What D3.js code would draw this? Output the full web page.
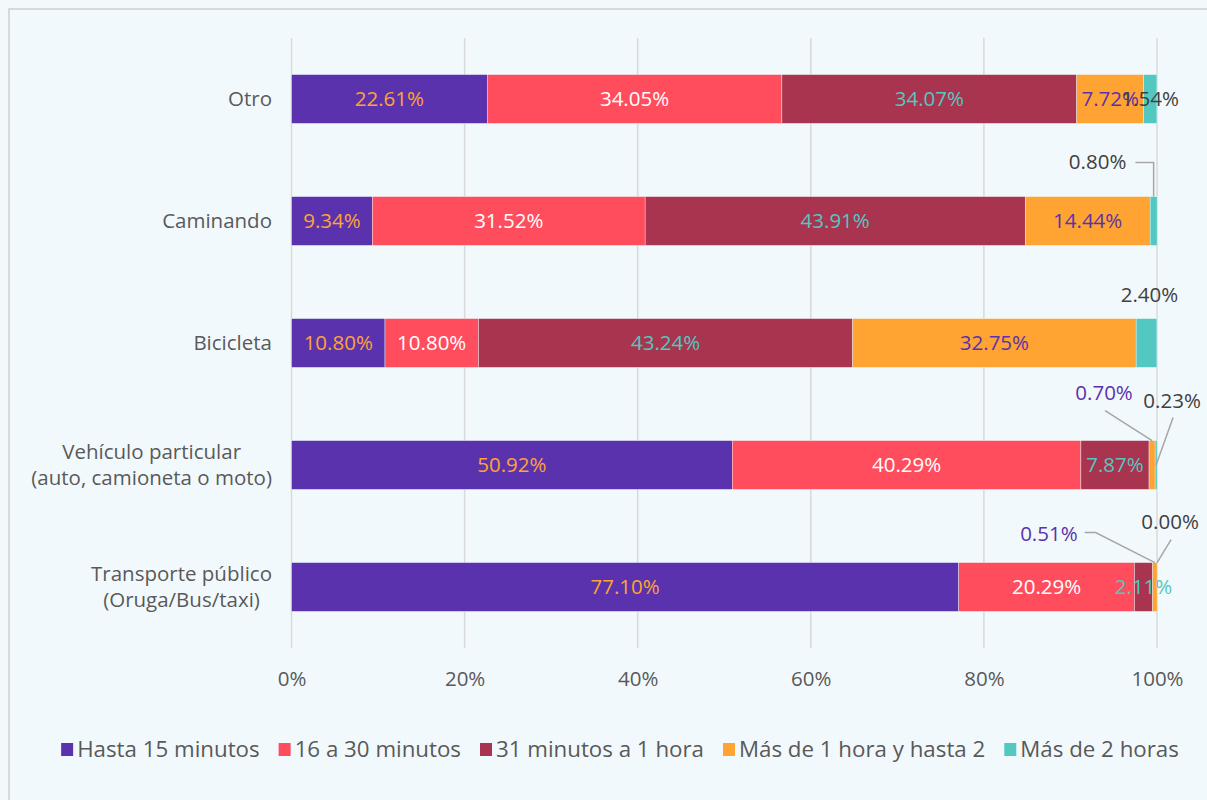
<!DOCTYPE html>
<html>
<head>
<meta charset="utf-8">
<script src="https://cdn.jsdelivr.net/npm/d3@7"></script>
<style>
  html, body { margin: 0; padding: 0; background: #f2f9fd; }
  svg { display: block; font-family: "Open Sans", sans-serif; }
</style>
</head>
<body>
<svg id="chart" width="1207" height="800"></svg>
<script>
// Travel time by mode of transport (share of trips, %)
const categories = [
  "Otro",
  "Caminando",
  "Bicicleta",
  "Vehículo particular\n(auto, camioneta o moto)",
  "Transporte público\n(Oruga/Bus/taxi)"
];
const seriesNames = [
  "Hasta 15 minutos",
  "16 a 30 minutos",
  "31 minutos a 1 hora",
  "Más de 1 hora y hasta 2",
  "Más de 2 horas"
];
const hasta15     = [22.61, 9.34, 10.80, 50.92, 77.10];
const de16a30     = [34.05, 31.52, 10.80, 40.29, 20.29];
const de31a60     = [34.07, 43.91, 43.24, 7.87, 2.11];
const de1a2horas  = [7.72, 14.44, 32.75, 0.70, 0.51];
const mas2horas   = [1.54, 0.80, 2.40, 0.23, 0.00];
const xTicks = [0, 20, 40, 60, 80, 100];

const seriesValues = [hasta15, de16a30, de31a60, de1a2horas, mas2horas];
const fills = ["#5a32ad", "#ff4d5e", "#a8344f", "#ffa333", "#52c8c0"];
const labelColors = ["#ffa333", "#ffffff", "#52c8c0", "#5a32ad", "#404040"];

// Labels for thin segments sit outside the bar, with a leader line.
// key: "category|series" -> label offset from the segment's top-centre, leader style
const callouts = {
  "1|4": { dx: -56, dy: -35, leader: "elbowDown" },
  "2|4": { dx: 3, dy: -24, leader: "none" },
  "3|3": { dx: -48, dy: -48, leader: "straight" },
  "3|4": { dx: 16, dy: -40, leader: "toMiddle" },
  "4|3": { dx: -106, dy: -29, leader: "elbowDiag" },
  "4|4": { dx: 13, dy: -41, leader: "straight" }
};

const svg = d3.select("#chart");
const fontSize = 20.5;
const legendFontSize = 22.3;
const textColor = "#595959";

// frame
svg.append("rect")
  .attr("x", 9).attr("y", 9).attr("width", 1240).attr("height", 820)
  .attr("fill", "#f2f9fd").attr("stroke", "#d9d9d9").attr("stroke-width", 2);

const x = d3.scaleLinear().domain([0, 100]).range([291.5, 1157]);
const y = d3.scaleBand().domain(d3.range(categories.length))
  .range([38, 648]).paddingInner(0.6).paddingOuter(0.3);

// gridlines
svg.append("g").selectAll("line").data(xTicks).join("line")
  .attr("x1", d => x(d)).attr("x2", d => x(d))
  .attr("y1", 38).attr("y2", 648)
  .attr("stroke", "#d9d9d9").attr("stroke-width", 1.5);

// x axis labels
const xAxis = d3.axisBottom(x).tickValues(xTicks).tickFormat(d => d + "%").tickSize(0).tickPadding(0);
const gx = svg.append("g").attr("transform", "translate(0,671)").call(xAxis);
gx.select(".domain").remove();
gx.selectAll("text").attr("font-size", fontSize).attr("fill", textColor)
  .attr("font-family", "Open Sans, sans-serif");

// stacked data
const stacked = categories.map((c, i) => {
  let acc = 0;
  return seriesValues.map((vals, s) => {
    const v = vals[i];
    const seg = { cat: i, series: s, value: v, x0: acc, x1: acc + v };
    acc += v;
    return seg;
  });
});

const segs = stacked.flat();

// bars
svg.append("g").selectAll("rect").data(segs).join("rect")
  .attr("x", d => x(d.x0))
  .attr("y", d => y(d.cat))
  .attr("width", d => Math.max(0, x(d.x1) - x(d.x0)))
  .attr("height", y.bandwidth())
  .attr("fill", d => fills[d.series])
  .attr("stroke", "#f2f9fd").attr("stroke-width", 0.4);

// value labels
const fmt = v => v.toFixed(2) + "%";
const labels = svg.append("g");
const leaders = svg.append("g");
segs.forEach(d => {
  const key = d.cat + "|" + d.series;
  const cx = (x(d.x0) + x(d.x1)) / 2;
  const top = y(d.cat);
  const c = callouts[key];
  if (!c) {
    labels.append("text")
      .attr("x", cx).attr("y", top + y.bandwidth() / 2)
      .attr("dy", "0.35em")
      .attr("text-anchor", "middle")
      .attr("font-size", fontSize)
      .attr("fill", labelColors[d.series])
      .text(fmt(d.value));
    return;
  }
  const lx = cx + c.dx, ly = top + c.dy;
  const t = labels.append("text")
    .attr("x", lx).attr("y", ly).attr("dy", "0.35em")
    .attr("text-anchor", "middle")
    .attr("font-size", fontSize)
    .attr("fill", labelColors[d.series])
    .text(fmt(d.value));
  const w = t.node().getComputedTextLength();
  let pts = null;
  if (c.leader === "elbowDown") {
    pts = [[lx + w / 2 + 9, ly + 1], [cx, ly + 1], [cx, top]];
  } else if (c.leader === "elbowDiag") {
    pts = [[lx + w / 2 + 7, ly - 1], [lx + w / 2 + 18, ly - 1], [cx, top]];
  } else if (c.leader === "straight") {
    pts = [[lx + 1, ly + 18], [cx, top]];
  } else if (c.leader === "toMiddle") {
    pts = [[lx + 1, ly + 17], [cx, top + y.bandwidth() / 2]];
  }
  if (pts) {
    leaders.append("path")
      .attr("d", d3.line()(pts))
      .attr("fill", "none").attr("stroke", "#a6a6a6").attr("stroke-width", 1.5);
  }
});

// category labels: multi-line labels are centred on their widest line, right edge at 272
const catG = svg.append("g");
categories.forEach((c, i) => {
  const lines = c.split("\n");
  const g = catG.append("g");
  const cy = y(i) + y.bandwidth() / 2;
  const lineH = 26;
  const texts = lines.map((ln, k) => g.append("text")
    .attr("y", cy + (k - (lines.length - 1) / 2) * lineH)
    .attr("dy", "0.35em")
    .attr("text-anchor", "middle")
    .attr("font-size", fontSize)
    .attr("fill", textColor)
    .text(ln));
  const maxW = d3.max(texts, t => t.node().getComputedTextLength());
  texts.forEach(t => t.attr("x", 272 - maxW / 2));
});

// legend
const legend = svg.append("g");
const legendGap = 19;
let lxPos = 0;
seriesNames.forEach((n, s) => {
  const g = legend.append("g").attr("transform", `translate(${lxPos},0)`);
  g.append("rect").attr("x", 0).attr("y", -7).attr("width", 12).attr("height", 13).attr("fill", fills[s]);
  const t = g.append("text").attr("x", 16).attr("y", 0).attr("dy", "0.33em")
    .attr("font-size", legendFontSize).attr("fill", textColor).text(n);
  const w = 16 + t.node().getComputedTextLength();
  lxPos += w + legendGap;
});
const totalW = lxPos - legendGap;
legend.attr("transform", `translate(${620 - totalW / 2},750)`);
</script>
</body>
</html>
